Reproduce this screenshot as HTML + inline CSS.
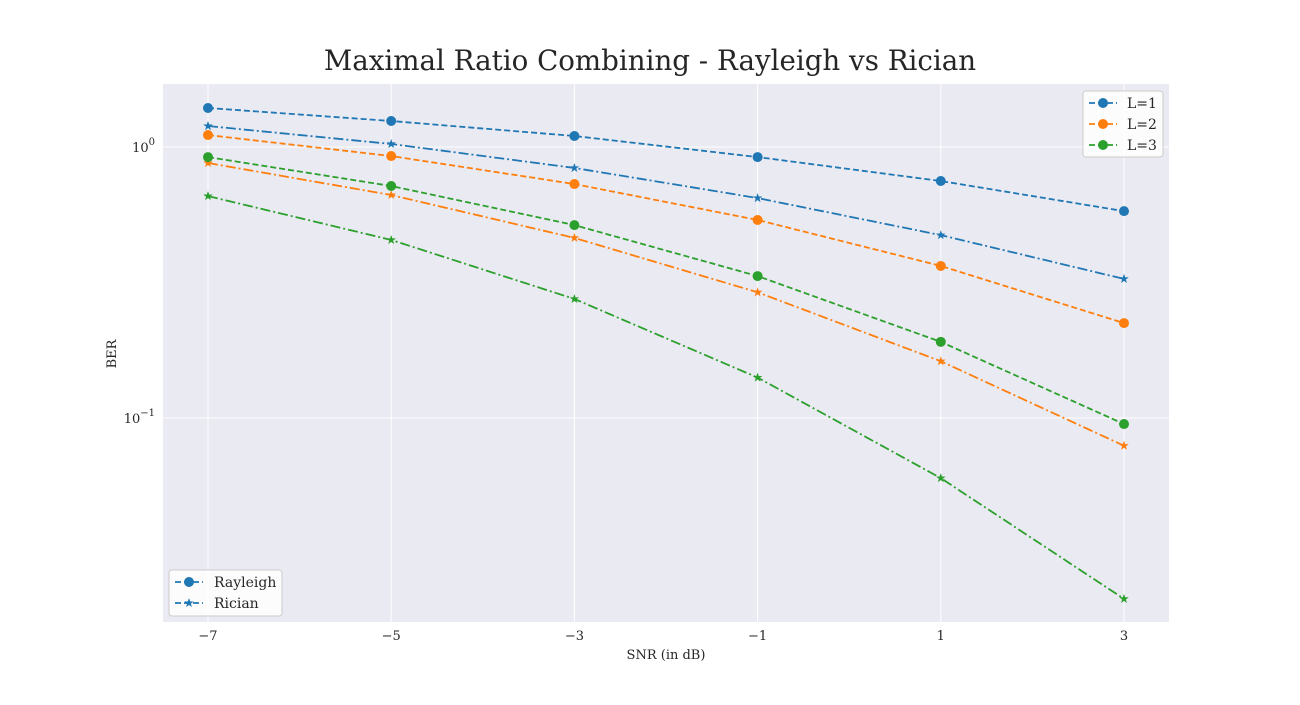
<!DOCTYPE html>
<html><head><meta charset="utf-8"><style>
body{margin:0;background:#fff;}
svg text{font-family:"DejaVu Serif","Liberation Serif",serif;fill:#262626;}
</style></head><body>
<svg id="chart" width="1300" height="700">
<text x="650" y="70" text-anchor="middle" font-size="27.7">Maximal Ratio Combining - Rayleigh vs Rician</text>
<rect x="163" y="84" width="1006" height="538" fill="#eaeaf2"/>
<g id="grid"></g><g id="axes"></g><g id="series"></g>
<text x="666" y="659" text-anchor="middle" font-size="13">SNR (in dB)</text>
<text x="116" y="354" text-anchor="middle" font-size="13" transform="rotate(-90 116 354)">BER</text>
<g id="legend1">
<rect x="1083" y="91" width="80" height="66" rx="3" fill="#fff" fill-opacity="0.85" stroke="#ccc"/>
</g>
<g id="legend2">
<rect x="169" y="570" width="113" height="46" rx="3" fill="#fff" fill-opacity="0.85" stroke="#ccc"/>
</g>
</svg>
<script>
const snr=[-7,-5,-3,-1,1,3];
const xTicks=[-7,-5,-3,-1,1,3];
const rayL1=[1.393,1.247,1.098,0.918,0.749,0.580];
const ricL1=[1.195,1.026,0.837,0.648,0.473,0.326];
const rayL2=[1.107,0.926,0.730,0.538,0.364,0.224];
const ricL2=[0.873,0.665,0.462,0.291,0.162,0.079];
const rayL3=[0.918,0.718,0.515,0.334,0.191,0.095];
const ricL3=[0.659,0.454,0.275,0.141,0.060,0.0215];
const ns="http://www.w3.org/2000/svg";
const X=v=>208+(v+7)*91.6;
const Y=v=>147-Math.log10(v)*271;
function mk(t,a,p){const e=document.createElementNS(ns,t);for(const k in a)e.setAttribute(k,a[k]);document.getElementById(p).appendChild(e);return e;}
xTicks.forEach(t=>{
 const g=mk('line',{x1:X(t),x2:X(t),y1:84,y2:622,stroke:'#fff','stroke-width':1},'grid');
 
 
 const l=mk('text',{x:X(t),y:640,'text-anchor':'middle','font-size':13},'axes');
 l.textContent=(t<0?'\u2212'+(-t):t);
 
 
});
[0,-1].forEach(p=>{
 const y=Y(Math.pow(10,p));
 const g=mk('line',{x1:163,x2:1169,y1:y,y2:y,stroke:'#fff','stroke-width':1},'grid');
 
 
 const l=mk('text',{x:155,y:y+5,'text-anchor':'end','font-size':13},'axes');
 l.innerHTML='10<tspan dy="-7" font-size="10">'+(p<0?'\u22121':'0')+'</tspan>';
 
 
});
const cols=['#1f77b4','#ff7f0e','#2ca02c'];
function star(cx,cy,r){let s='';for(let i=0;i<10;i++){const a=-Math.PI/2+i*Math.PI/5,rr=i%2?r*0.4:r;s+=(cx+rr*Math.cos(a))+','+(cy+rr*Math.sin(a))+' ';}return s;}
function series(vals,col,dash,marker,name){
 const pts=snr.map((s,i)=>X(s)+','+Y(vals[i])).join(' ');
 const pl=mk('polyline',{points:pts,fill:'none',stroke:col,'stroke-width':1.8,'stroke-dasharray':dash},'series');
 
 
 snr.forEach((s,i)=>{
  let m;
  if(marker==='o')m=mk('circle',{cx:X(s),cy:Y(vals[i]),r:5,fill:col},'series');
  else m=mk('polygon',{points:star(X(s),Y(vals[i]),5),fill:col},'series');
  
  
 });
}
series(rayL1,cols[0],'6 3','o','rayleigh-l1');
series(ricL1,cols[0],'10 3 2 3','*','rician-l1');
series(rayL2,cols[1],'6 3','o','rayleigh-l2');
series(ricL2,cols[1],'10 3 2 3','*','rician-l2');
series(rayL3,cols[2],'6 3','o','rayleigh-l3');
series(ricL3,cols[2],'10 3 2 3','*','rician-l3');
['L=1','L=2','L=3'].forEach((t,i)=>{
 const y=103+i*21;
 const l=mk('line',{x1:1089,x2:1117,y1:y,y2:y,stroke:cols[i],'stroke-width':1.8,'stroke-dasharray':'6 3'},'legend1');
 
 
 const c=mk('circle',{cx:1103,cy:y,r:5,fill:cols[i]},'legend1');
 
 
 const tx=mk('text',{x:1127,y:y+5,'font-size':14},'legend1');
 tx.textContent=t;
 
 
});
['Rayleigh','Rician'].forEach((t,i)=>{
 const y=582+i*21;
 const l=mk('line',{x1:175,x2:203,y1:y,y2:y,stroke:cols[0],'stroke-width':1.8,'stroke-dasharray':'6 3'},'legend2');
 
 
 let m;
 if(i===0)m=mk('circle',{cx:189,cy:y,r:5,fill:cols[0]},'legend2');
 else m=mk('polygon',{points:star(189,y,5),fill:cols[0]},'legend2');
 
 
 const tx=mk('text',{x:214,y:y+5,'font-size':14},'legend2');
 tx.textContent=t;
 
 
});
</script>
</body></html>
